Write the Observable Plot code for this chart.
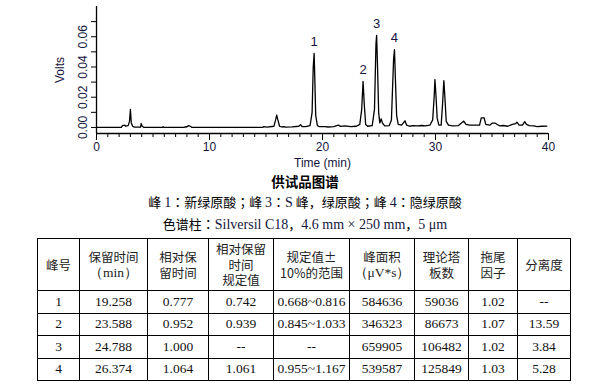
<!DOCTYPE html>
<html><head><meta charset="utf-8">
<script src="https://cdn.jsdelivr.net/npm/d3@7"></script>
<script src="https://cdn.jsdelivr.net/npm/@observablehq/plot@0.6"></script>
<style>
body{margin:0;width:610px;height:391px;position:relative;background:#fff;font-family:"Liberation Sans",Arial,sans-serif;overflow:hidden;}
#chart{position:absolute;left:0;top:0;}
.cap{position:absolute;left:0;width:610px;text-align:center;color:#000;white-space:nowrap;font-family:"Noto Sans CJK SC",sans-serif;font-size:13px;}
.lat{font-family:"Liberation Serif","Times New Roman",serif;color:#14143c;font-size:14px;}
.pc{font-family:"Noto Sans CJK TC",sans-serif;}
#tbl{position:absolute;left:37px;top:238px;border-collapse:collapse;table-layout:fixed;}
#tbl td{border:1px solid #000;text-align:center;padding:0;color:#111;}
#tbl tr.h td{font-family:"Noto Sans CJK SC",sans-serif;font-size:12.5px;line-height:15.5px;height:51px;color:#222;}
#tbl tr.d td{font-family:"Liberation Serif","Times New Roman",serif;font-size:13.5px;height:21.5px;}
</style></head>
<body>
<div id="chart"></div>
<div class="cap" style="top:172px;line-height:18px;font-weight:700;font-size:13.5px;">供试品图谱</div>
<div class="cap" id="peaksLine" style="top:192px;line-height:20px;"></div>
<div class="cap" id="colLine" style="top:214px;line-height:20px;"></div>
<table id="tbl"></table>
<script>
// ---- chromatogram trace (time in min, signal in volts) ----
const chromTime = [0,2.2,2.3,2.5,2.6,2.8,2.92,3.0,3.08,3.2,3.35,3.9,3.95,4.05,4.2,5.85,5.9,5.95,7.75,7.85,7.95,8.15,8.3,8.45,
  14.7,14.8,14.95,15.1,15.7,15.85,15.95,16.05,16.2,16.4,16.6,16.7,17.3,17.9,18.05,18.2,18.5,18.9,19.08,19.18,19.26,19.32,19.4,19.55,19.7,
  20.2,20.5,21.0,21.4,21.6,22.0,22.5,23.0,23.3,23.47,23.59,23.7,23.82,24.0,24.4,24.6,24.73,24.79,24.87,24.97,25.07,25.2,25.3,25.5,
  25.9,26.1,26.29,26.37,26.46,26.56,26.7,27.0,27.3,27.45,27.7,28.0,28.4,28.8,29.1,29.5,29.75,29.88,29.95,30.05,30.15,30.3,30.5,30.62,30.74,30.83,30.95,31.15,
  31.5,32.0,32.3,32.5,32.7,33.0,33.9,34.05,34.3,34.45,34.8,35.0,35.3,35.5,35.7,36.0,36.4,36.8,37.1,37.2,37.4,37.7,37.9,38.05,38.3,38.7,39.0,39.4,39.86];
const chromVolts = [0,0,0.0012,0.0015,0.0008,0.0012,0.004,0.0119,0.003,0.0008,0.0002,0.0002,0.0026,0.0008,0,0,0.0005,0,0,0.0005,0.0002,0.0012,0.0008,0,
  0,0.0006,0.0004,0.0002,0.0008,0.005,0.0081,0.005,0.0008,0.0003,0.0006,0.0002,0.0004,0.0008,0.0018,0.0006,0.0005,0.0012,0.01,0.04,0.049,0.032,0.008,0.0012,0.0006,
  0.0005,0.0003,0.0006,0.0015,0.0007,0.001,0.0005,0.0008,0.002,0.012,0.0304,0.015,0.002,0.0008,0.0012,0.012,0.055,0.0609,0.04,0.01,0.003,0.0057,0.003,0.001,
  0.0012,0.005,0.045,0.0515,0.03,0.008,0.002,0.0015,0.0044,0.0015,0.0008,0.0012,0.001,0.0013,0.001,0.0015,0.005,0.02,0.0317,0.02,0.006,0.0015,0.0015,0.015,0.031,0.02,0.004,0.0015,
  0.001,0.0012,0.003,0.0042,0.002,0.0015,0.0015,0.0064,0.0064,0.002,0.0015,0.0028,0.0028,0.0018,0.001,0.0013,0.0008,0.002,0.0025,0.0035,0.0015,0.0015,0.0038,0.002,0.0012,0.001,0.0005,0.0008,0.0009];

// ---- labelled peaks ----
const peakLabels = ["1","2","3","4"];
const peakApexTime = [19.26,23.59,24.79,26.37];
const peakApexVolts = [0.049,0.0304,0.0609,0.0515];

// ---- axis ticks ----
const xMajorTicks = [0,10,20,30,40];
const xMinorTicks = [0,1,2,3,4,5,6,7,8,9,10,11,12,13,14,15,16,17,18,19,20,21,22,23,24,25,26,27,28,29,30,31,32,33,34,35,36,37,38,39,40];
const yMajorTicks = [0,0.02,0.04,0.06];
const yMinorTicks = [0.01,0.03,0.05,0.07];

// ---- table ----
const peakNo = ["1","2","3","4"];
const retTime = ["19.258","23.588","24.788","26.374"];
const relRetTime = ["0.777","0.952","1.000","1.064"];
const relRetSpec = ["0.742","0.939","--","1.061"];
const specRange = ["0.668~0.816","0.845~1.033","--","0.955~1.167"];
const peakArea = ["584636","346323","659905","539587"];
const plates = ["59036","86673","106482","125849"];
const tailing = ["1.02","1.07","1.02","1.03"];
const resolution = ["--","13.59","3.84","5.28"];
const headers = ["峰号","保留时间<br><span class='ser'>（min）</span>","相对保<br>留时间","相对保留<br>时间<br>规定值","规定值±<br>10%的范围","峰面积<br><span class='ser'>（μV*s）</span>","理论塔<br>板数","拖尾<br>因子","分离度"];
const colWidths = [42,68,61,65,76,65,54,49,53];

const trace = chromTime.map((t,i)=>({t, v: chromVolts[i]}));
const peaks = peakLabels.map((l,i)=>({l, t: peakApexTime[i], v: peakApexVolts[i]}));

const ink = "#14143c";
const plot = Plot.plot({
  width: 610, height: 172,
  marginLeft: 96, marginRight: 62, marginTop: 6, marginBottom: 39,
  style: {fontFamily: "'Liberation Sans', Arial, sans-serif", fontSize: "12px", color: ink, background: "white"},
  x: {domain: [0, 40]},
  y: {domain: [-0.004, 0.08]},
  marks: [
    Plot.axisX({ticks: xMinorTicks, tickSize: 4, text: null, label: null, stroke: "black"}),
    Plot.axisX({ticks: xMajorTicks, tickSize: 7, tickPadding: 2, label: "Time (min)", labelAnchor: "center", labelOffset: 33, labelArrow: "none", stroke: "black", fill: ink, fontSize: 12}),
    Plot.axisY({ticks: yMinorTicks, tickSize: 5, text: null, label: null, stroke: "black"}),
    Plot.axisY({ticks: yMajorTicks, tickSize: 5, tickPadding: 5, tickRotate: -90, tickFormat: d3.format(".2f"), label: "Volts", labelAnchor: "center", labelOffset: 41, labelArrow: "none", stroke: "black", fill: ink, fontSize: 12}),
    Plot.ruleX([0], {stroke: "black", strokeWidth: 1.3}),
    Plot.ruleY([-0.004], {stroke: "black", strokeWidth: 1.3}),
    Plot.line(trace, {x: "t", y: "v", stroke: "black", strokeWidth: 1.3, curve: "linear"}),
    Plot.text(peaks, {x: "t", y: "v", text: "l", dy: -12, fill: ink, fontSize: 13})
  ]
});
document.getElementById("chart").appendChild(plot);

document.getElementById("peaksLine").innerHTML =
  "峰 <span class='lat'>1</span><span class='pc'>：</span>新绿原酸<span class='pc'>；</span>峰 <span class='lat'>3</span><span class='pc'>：</span><span class='lat'>S</span> 峰，绿原酸<span class='pc'>；</span>峰 <span class='lat'>4</span><span class='pc'>：</span>隐绿原酸";
document.getElementById("colLine").innerHTML =
  "色谱柱<span class='pc'>：</span><span class='lat'>Silversil C18</span>，<span class='lat'>4.6 mm × 250 mm</span>，<span class='lat'>5 μm</span>";

const tbl = document.getElementById("tbl");
const cg = document.createElement("colgroup");
colWidths.forEach(w=>{const c=document.createElement("col"); c.style.width=w+"px"; cg.appendChild(c);});
tbl.appendChild(cg);
const hr = document.createElement("tr"); hr.className="h";
headers.forEach(h=>{const td=document.createElement("td"); td.innerHTML=h; hr.appendChild(td);});
tbl.appendChild(hr);
peakNo.forEach((p,i)=>{
  const tr=document.createElement("tr"); tr.className="d";
  [p,retTime[i],relRetTime[i],relRetSpec[i],specRange[i],peakArea[i],plates[i],tailing[i],resolution[i]].forEach(v=>{
    const td=document.createElement("td"); td.textContent=v; tr.appendChild(td);
  });
  tbl.appendChild(tr);
});
document.querySelectorAll(".ser").forEach(s=>{s.style.fontFamily="'Liberation Serif','Times New Roman',serif";s.style.fontSize="13.5px";});
</script>
</body></html>
